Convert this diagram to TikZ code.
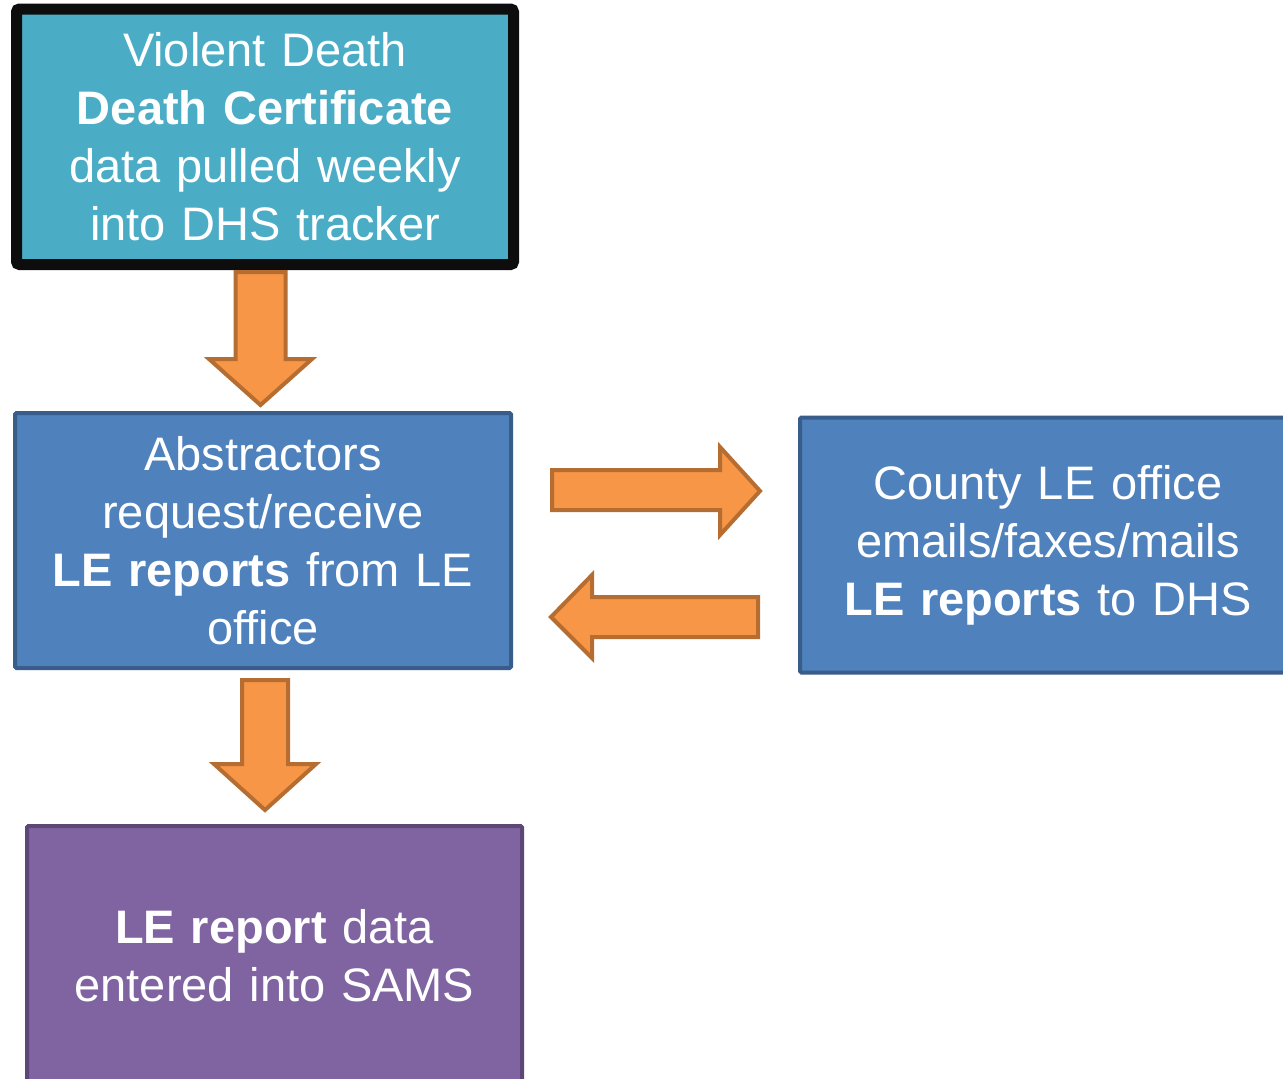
\documentclass[tikz,border=0pt]{standalone}
\usepackage{fontspec}
\setmainfont{Liberation Sans}
\definecolor{tealfill}{HTML}{4BACC6}
\definecolor{blackedge}{HTML}{0D0D0D}
\definecolor{bluefill}{HTML}{4F81BD}
\definecolor{blueedge}{HTML}{385D8A}
\definecolor{purplefill}{HTML}{8064A2}
\definecolor{purpleedge}{HTML}{5C4776}
\definecolor{orangefill}{HTML}{F79646}
\definecolor{orangeedge}{HTML}{B66D31}
\tikzset{
  boxbase/.style={rectangle, text=white, align=center, inner sep=0pt,
    font=\fontsize{47}{58}\selectfont, text width=480pt},
  topbox/.style={boxbase, fill=tealfill, draw=blackedge, line width=11pt, rounded corners=3pt,
    minimum width=497pt, minimum height=255.5pt},
  bluebox/.style={boxbase, fill=bluefill, draw=blueedge, line width=4pt, rounded corners=1.5pt,
    minimum width=496pt, minimum height=255pt},
  purplebox/.style={boxbase, fill=purplefill, draw=purpleedge, line width=4pt, rounded corners=1.5pt,
    minimum width=495pt, minimum height=260pt},
  blockarrow/.style={fill=orangefill, draw=orangeedge, line width=4pt, line join=miter},
}
\begin{document}
\begin{tikzpicture}[x=1pt, y=-1pt]
\path[use as bounding box, clip] (0,0) rectangle (1283,1079);
\fill[white] (0,0) rectangle (1283,1079);
% boxes
\node[topbox] (cert) at (265,136.75) {Violent Death\\\textbf{Death Certificate}\\data pulled weekly\\into DHS tracker};
\node[bluebox] (abstr) at (263,540.5) {Abstractors\\request/receive\\\textbf{LE reports} from LE\\office};
\node[bluebox] (county) at (1048,545) {County LE office\\emails/faxes/mails\\\textbf{LE reports} to DHS};
\node[purplebox] (sams) at (274.5,956) {\textbf{LE report} data\\entered into SAMS};
% block arrows
\draw[blockarrow] (235.5,272) -- (285.5,272) -- (285.5,359) -- (312,359) -- (260.5,405) -- (209,359) -- (235.5,359) -- cycle;
\draw[blockarrow] (552,470) -- (720,470) -- (720,447) -- (760,491) -- (720,535) -- (720,510) -- (552,510) -- cycle;
\draw[blockarrow] (758,597) -- (592,597) -- (592,575) -- (551,617) -- (592,658) -- (592,637) -- (758,637) -- cycle;
\draw[blockarrow] (242,680) -- (288,680) -- (288,764) -- (316,764) -- (265,810) -- (214,764) -- (242,764) -- cycle;
\end{tikzpicture}
\end{document}
